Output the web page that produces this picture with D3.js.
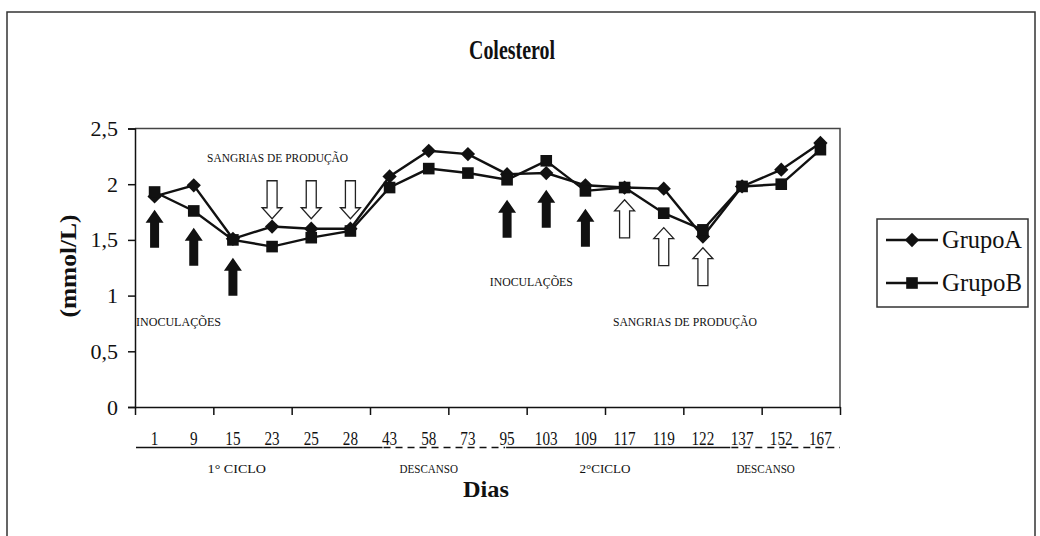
<!DOCTYPE html>
<html><head><meta charset="utf-8">
<script src="https://cdn.jsdelivr.net/npm/d3@7"></script>
<style>
body{margin:0;background:#fff}
svg{display:block}
text{font-family:"Liberation Serif","Times New Roman",serif;fill:#111}
</style></head>
<body><svg id="c" width="1040" height="536"></svg>
<script>
// ---- data ----
const days = ["1","9","15","23","25","28","43","58","73","95","103","109","117","119","122","137","152","167"];
const grupoA = [1.89,1.99,1.51,1.62,1.60,1.60,2.07,2.30,2.27,2.09,2.10,1.99,1.97,1.96,1.53,1.98,2.13,2.37];
const grupoB = [1.93,1.76,1.50,1.44,1.52,1.58,1.97,2.14,2.10,2.04,2.21,1.94,1.97,1.74,1.59,1.98,2.00,2.31];
const yTicks = [0,0.5,1,1.5,2,2.5];
const yTickLabels = ["0","0,5","1","1,5","2","2,5"];
// arrows: day + value at arrow tip
const inoculacoes = [{day:"1",tip:1.77},{day:"9",tip:1.61},{day:"15",tip:1.34},{day:"95",tip:1.86},{day:"103",tip:1.95},{day:"109",tip:1.78}];
const sangrias1 = [{day:"23",tip:1.69},{day:"25",tip:1.69},{day:"28",tip:1.69}];
const sangrias2 = [{day:"117",tip:1.86},{day:"119",tip:1.61},{day:"122",tip:1.43}];
const annotations = [
  {text:"SANGRIAS DE PRODUÇÃO", at:3.64, v:2.24, w:141},
  {text:"INOCULAÇÕES", at:1.11, v:0.77, w:85},
  {text:"INOCULAÇÕES", at:10.12, v:1.13, w:83},
  {text:"SANGRIAS DE PRODUÇÃO", at:14.04, v:0.77, w:144}
];
const periods = [
  {label:"1° CICLO", from:0, to:6.32, dashed:false, at:2.6},
  {label:"DESCANSO", from:6.32, to:9.45, dashed:true, at:7.5},
  {label:"2°CICLO", from:9.45, to:15.2, dashed:false, at:12.0},
  {label:"DESCANSO", from:15.2, to:18, dashed:true, at:16.1}
];
const series = [{name:"GrupoA", values:grupoA, shape:"diamond"},{name:"GrupoB", values:grupoB, shape:"square"}];

// ---- layout ----
const svg = d3.select("#c");
const L=135, R=840, T=128.5, B=407;
const x = d3.scaleBand().domain(days).range([L,R]).paddingInner(0).paddingOuter(0);
const xu = d3.scaleLinear().domain([0,days.length]).range([L,R]);
const y = d3.scaleLinear().domain([0,2.5]).range([B,T]);
const cx = d => x(d)+x.bandwidth()/2;
const ink="#111";

// outer border
svg.append("rect").attr("x",7).attr("y",12).attr("width",1028).attr("height",540)
  .attr("fill","none").attr("stroke","#333").attr("stroke-width",1.5);

// title
svg.append("text").attr("x",512).attr("y",59).attr("text-anchor","middle")
  .attr("font-size",27).attr("font-weight","bold").attr("textLength",86).attr("lengthAdjust","spacingAndGlyphs")
  .text("Colesterol");

// plot frame (top and right)
svg.append("path").attr("d",`M${L},${T}H${R}V${B}`).attr("fill","none").attr("stroke","#444").attr("stroke-width",1.5);

// y axis
const yAxis = svg.append("g").attr("transform",`translate(${L},0)`)
  .call(d3.axisLeft(y).tickValues(yTicks).tickFormat((d,i)=>yTickLabels[i]).tickSize(7).tickPadding(10));
yAxis.select(".domain").attr("stroke",ink).attr("stroke-width",1.5);
yAxis.selectAll(".tick line").attr("stroke",ink).attr("stroke-width",1.5);
yAxis.selectAll(".tick text").attr("font-size",22).attr("font-family","Liberation Serif").attr("fill",ink);

// x axis: ticks every two categories on boundaries
const xAxis = svg.append("g").attr("transform",`translate(0,${B})`)
  .call(d3.axisBottom(xu).tickValues(d3.range(0,days.length+1,2)).tickFormat("").tickSize(8).tickSizeOuter(0));
xAxis.select(".domain").attr("stroke",ink).attr("stroke-width",1.5);
xAxis.selectAll(".tick line").attr("stroke",ink).attr("stroke-width",1.5);

// category labels
svg.append("g").selectAll("text").data(days).join("text")
  .attr("transform",d=>`translate(${cx(d)},445) scale(0.8,1)`)
  .attr("text-anchor","middle").attr("font-size",19).text(d=>d);

// period lines and labels
svg.append("g").selectAll("line").data(periods).join("line")
  .attr("x1",d=>xu(d.from)+1).attr("x2",d=>xu(d.to)).attr("y1",447.5).attr("y2",447.5)
  .attr("stroke",ink).attr("stroke-width",1.5).attr("stroke-dasharray",d=>d.dashed?"7,5":null);
svg.append("g").selectAll("text").data(periods).join("text")
  .attr("x",d=>xu(d.at)).attr("y",473).attr("text-anchor","middle").attr("font-size",13)
  .attr("textLength",d=>d.label.length*7.3).attr("lengthAdjust","spacingAndGlyphs")
  .text(d=>d.label);

// axis titles
svg.append("text").attr("x",486).attr("y",497).attr("text-anchor","middle")
  .attr("font-size",24).attr("font-weight","bold").attr("textLength",46).attr("lengthAdjust","spacingAndGlyphs").text("Dias");
svg.append("text").attr("transform","translate(76,266) rotate(-90)").attr("text-anchor","middle")
  .attr("font-size",24).attr("font-weight","bold").attr("textLength",103).attr("lengthAdjust","spacingAndGlyphs")
  .text("(mmol/L)");

// annotations
svg.append("g").selectAll("text").data(annotations).join("text")
  .attr("x",d=>xu(d.at)).attr("y",d=>y(d.v)+4.5).attr("text-anchor","middle")
  .attr("font-size",13).attr("textLength",d=>d.w).attr("lengthAdjust","spacingAndGlyphs")
  .text(d=>d.text);

// arrows
function upArrow(px, tipY, len, shaftW, headW, headL){
  const b=tipY+len, h=tipY+headL;
  return `M${px},${tipY}L${px+headW/2},${h}L${px+shaftW/2},${h}L${px+shaftW/2},${b}L${px-shaftW/2},${b}L${px-shaftW/2},${h}L${px-headW/2},${h}Z`;
}
function downArrow(px, tipY, len, shaftW, headW, headL){
  const t=tipY-len, h=tipY-headL;
  return `M${px},${tipY}L${px+headW/2},${h}L${px+shaftW/2},${h}L${px+shaftW/2},${t}L${px-shaftW/2},${t}L${px-shaftW/2},${h}L${px-headW/2},${h}Z`;
}
svg.append("g").selectAll("path").data(inoculacoes).join("path")
  .attr("d",d=>upArrow(cx(d.day),y(d.tip),38,9,18,13)).attr("fill","#111");
svg.append("g").selectAll("path").data(sangrias1).join("path")
  .attr("d",d=>downArrow(cx(d.day),y(d.tip),38,10,20,11)).attr("fill","#fff").attr("stroke","#222").attr("stroke-width",1.3);
svg.append("g").selectAll("path").data(sangrias2).join("path")
  .attr("d",d=>upArrow(cx(d.day),y(d.tip),38,10,20,11)).attr("fill","#fff").attr("stroke","#222").attr("stroke-width",1.3);

// lines and markers
const line = d3.line().x((v,i)=>cx(days[i])).y(v=>y(v));
const sym = {diamond:d3.symbol().type(d3.symbolDiamond2).size(130), square:d3.symbol().type(d3.symbolSquare).size(135)};
series.forEach(s=>{
  svg.append("path").datum(s.values).attr("d",line).attr("fill","none").attr("stroke",ink).attr("stroke-width",2.4);
});
series.forEach(s=>{
  svg.append("g").selectAll("path").data(s.values).join("path")
    .attr("transform",(v,i)=>`translate(${cx(days[i])},${y(v)})`)
    .attr("d",sym[s.shape]()).attr("fill",ink);
});

// legend
const lg = svg.append("g");
lg.append("rect").attr("x",877).attr("y",219).attr("width",151).attr("height",88)
  .attr("fill","#fff").attr("stroke","#333").attr("stroke-width",1.5);
const li = lg.selectAll("g").data(series).join("g").attr("transform",(d,i)=>`translate(0,${240+i*43})`);
li.append("line").attr("x1",886).attr("x2",938).attr("stroke",ink).attr("stroke-width",2.4);
li.append("path").attr("transform","translate(912,0)").attr("d",d=>sym[d.shape]()).attr("fill",ink);
li.append("text").attr("x",942).attr("y",8).attr("font-size",25).attr("textLength",80).attr("lengthAdjust","spacingAndGlyphs").text(d=>d.name);
</script></body></html>
